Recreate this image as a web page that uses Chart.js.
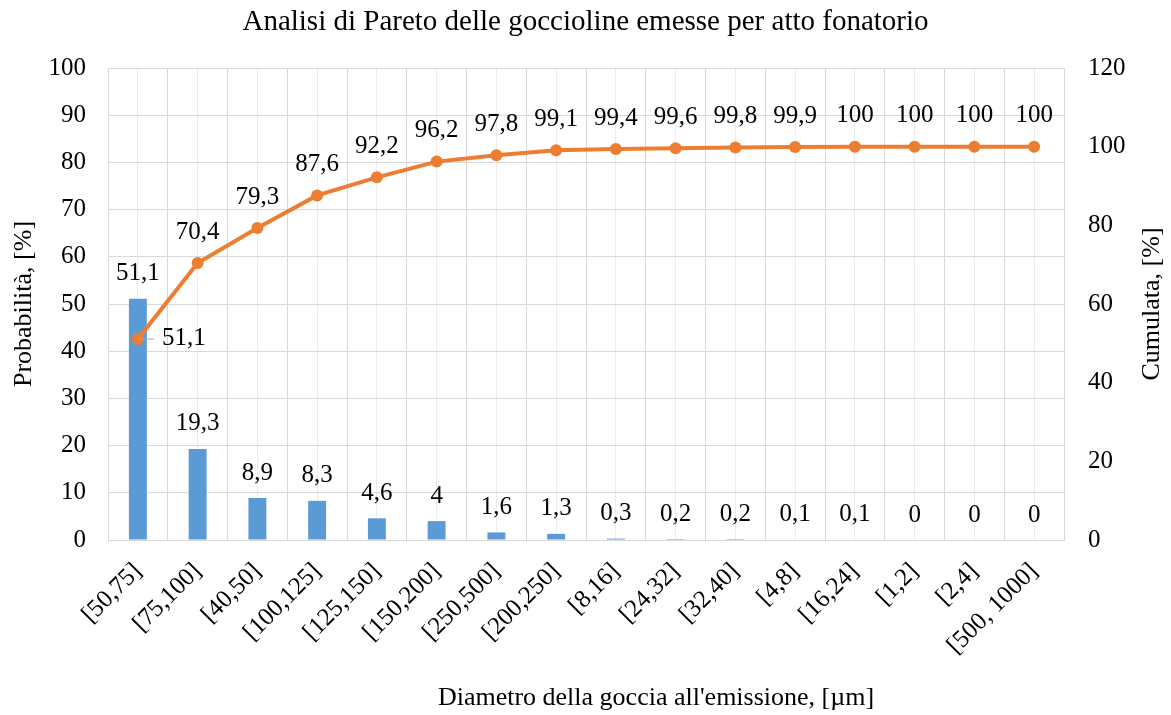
<!DOCTYPE html>
<html><head><meta charset="utf-8">
<script src="https://cdn.jsdelivr.net/npm/chart.js@4.4.0/dist/chart.umd.min.js"></script>
<style>html,body{margin:0;padding:0;background:#fff}#wrap{width:1171px;height:715px;position:relative}</style>
</head><body><div id="wrap"><canvas id="c" width="1171" height="715"></canvas></div>
<script>
const categories = ['[50,75]','[75,100]','[40,50]','[100,125]','[125,150]','[150,200]','[250,500]','[200,250]','[8,16]','[24,32]','[32,40]','[4,8]','[16,24]','[1,2]','[2,4]','[500, 1000]'];
const probability = [51.1, 19.3, 8.9, 8.3, 4.6, 4, 1.6, 1.3, 0.3, 0.2, 0.2, 0.1, 0.1, 0, 0, 0];
const cumulative = [51.1, 70.4, 79.3, 87.6, 92.2, 96.2, 97.8, 99.1, 99.4, 99.6, 99.8, 99.9, 100, 100, 100, 100];
const chartTitle = 'Analisi di Pareto delle goccioline emesse per atto fonatorio';
const xTitle = "Diametro della goccia all'emissione, [µm]";
const yTitle = 'Probabilità, [%]';
const y1Title = 'Cumulata, [%]';

const FONT = "'Liberation Serif','Times New Roman',serif";
const FS = 25;
const fmt = v => String(v).replace('.', ',');

const labelsPlugin = {
  id: 'labels',
  afterDatasetsDraw(chart) {
    const ctx = chart.ctx;
    ctx.save();
    ctx.font = FS + 'px ' + FONT;
    ctx.fillStyle = '#000';
    ctx.textAlign = 'center';
    ctx.textBaseline = 'middle';
    chart.getDatasetMeta(0).data.forEach((el, i) => {
      ctx.fillText(fmt(probability[i]), el.x, el.y - 25);
    });
    chart.getDatasetMeta(1).data.forEach((el, i) => {
      if (i === 0) {
        ctx.strokeStyle = '#a6a6a6';
        ctx.lineWidth = 1;
        ctx.beginPath();
        ctx.moveTo(el.x + 2, el.y);
        ctx.lineTo(el.x + 16, el.y);
        ctx.stroke();
        ctx.textAlign = 'left';
        ctx.fillText(fmt(cumulative[i]), el.x + 24, el.y - 1);
        ctx.textAlign = 'center';
      } else {
        ctx.fillText(fmt(cumulative[i]), el.x, el.y - 31);
      }
    });
    ctx.restore();
  },
  afterDraw(chart) {
    const ctx = chart.ctx;
    const a = chart.chartArea;
    ctx.save();
    ctx.fillStyle = '#000';
    ctx.textAlign = 'center';
    ctx.textBaseline = 'middle';
    ctx.font = '29px ' + FONT;
    ctx.fillText(chartTitle, chart.width / 2, 22);
    ctx.font = '26px ' + FONT;
    ctx.fillText(xTitle, 656, 698);
    const cy = (a.top + a.bottom) / 2;
    ctx.save(); ctx.translate(24, cy); ctx.rotate(-Math.PI / 2); ctx.fillText(yTitle, 0, 0); ctx.restore();
    ctx.save(); ctx.translate(1152, cy); ctx.rotate(-Math.PI / 2); ctx.fillText(y1Title, 0, 0); ctx.restore();
    ctx.restore();
  }
};

const tickFont = { family: FONT, size: FS };

new Chart(document.getElementById('c'), {
  data: {
    labels: categories,
    datasets: [
      { type: 'bar', data: probability, backgroundColor: '#5B9BD5', xAxisID: 'x', yAxisID: 'y',
        barPercentage: 0.30, categoryPercentage: 1, order: 2 },
      { type: 'line', data: cumulative, borderColor: '#ED7D31', backgroundColor: '#ED7D31', borderWidth: 4,
        pointRadius: 6, pointHoverRadius: 6, pointBackgroundColor: '#ED7D31', pointBorderWidth: 0,
        xAxisID: 'x', yAxisID: 'y1', tension: 0, order: 1 }
    ]
  },
  options: {
    responsive: false,
    animation: false,
    devicePixelRatio: 1,
    layout: { padding: { top: 68, left: 0, right: 0, bottom: 0 } },
    plugins: { legend: { display: false }, title: { display: false }, tooltip: { enabled: false } },
    scales: {
      x: {
        type: 'category', position: 'bottom', offset: true,
        grid: { offset: true, color: '#d9d9d9', drawTicks: false },
        border: { color: '#d9d9d9' },
        ticks: { font: tickFont, color: '#000', maxRotation: 45, minRotation: 45, padding: 17, autoSkip: false },
        afterFit(s) { s.height = 175; }
      },
      x2: {
        type: 'category', position: 'top', offset: true, labels: categories,
        grid: { offset: false, color: '#ececec', drawTicks: false },
        border: { display: false },
        ticks: { display: false },
        afterFit(s) { s.height = 0; }
      },
      y: {
        position: 'left', min: 0, max: 100,
        ticks: { stepSize: 10, padding: 22, font: tickFont, color: '#000' },
        grid: { color: '#d9d9d9', drawTicks: false },
        border: { display: false },
        afterFit(s) { s.width = 108; }
      },
      y1: {
        position: 'right', min: 0, max: 120,
        ticks: { stepSize: 20, padding: 24, font: tickFont, color: '#000' },
        grid: { drawOnChartArea: false, drawTicks: false },
        border: { display: false },
        afterFit(s) { s.width = 107; }
      }
    }
  },
  plugins: [labelsPlugin]
});
</script>
</body></html>
